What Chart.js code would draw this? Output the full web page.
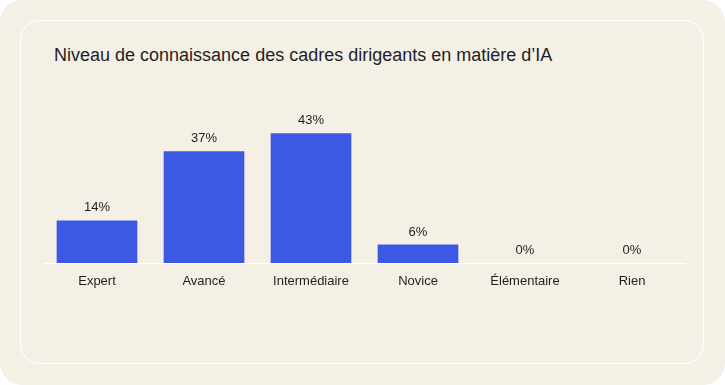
<!DOCTYPE html>
<html>
<head>
<meta charset="utf-8">
<script src="https://cdn.jsdelivr.net/npm/chart.js@4"></script>
<style>
  html, body { margin: 0; padding: 0; background: #ffffff; }
  #page {
    position: relative;
    width: 725px; height: 385px;
    background: #f4f0e6;
    border-radius: 22px;
    overflow: hidden;
    font-family: "Liberation Sans", Arial, sans-serif;
  }
  #card {
    position: absolute;
    left: 20px; top: 20px;
    width: 684px; height: 344px;
    border: 1px solid #ffffff;
    border-radius: 20px;
    box-sizing: border-box;
  }
  #title {
    position: absolute;
    left: 54px; top: 45px;
    font-size: 18px;
    line-height: 20px;
    color: #1f1f1f;
  }
  #wrap { position: absolute; left: 0; top: 0; width: 725px; height: 385px; }
</style>
</head>
<body>
<div id="page">
  <div id="card"></div>
  <div id="title">Niveau de connaissance des cadres dirigeants en matière d’IA</div>
  <div id="wrap"><canvas id="myChart"></canvas></div>
</div>
<script>
// Catégories et valeurs (%)
const categories = ['Expert', 'Avancé', 'Intermédiaire', 'Novice', 'Élémentaire', 'Rien'];
const values = [14, 37, 43, 6, 0, 0];

const fontFamily = '"Liberation Sans", Arial, sans-serif';

// Étiquettes de valeur au-dessus des barres
const valueLabels = {
    id: 'valueLabels',
    afterDatasetsDraw(chart) {
        const ctx = chart.ctx;
        const meta = chart.getDatasetMeta(0);
        ctx.save();
        ctx.font = '13px ' + fontFamily;
        ctx.fillStyle = '#1f1f1f';
        ctx.textAlign = 'center';
        ctx.textBaseline = 'middle';
        meta.data.forEach((bar, i) => {
            ctx.fillText(values[i] + '%', bar.x, bar.y - 13);
        });
        ctx.restore();
    }
};

const ctx = document.getElementById('myChart').getContext('2d');

new Chart(ctx, {
    type: 'bar',
    data: {
        labels: categories,
        datasets: [{
            data: values,
            // pas de trait pour les barres à 0 %
            backgroundColor: values.map(v => v > 0 ? '#3d59e3' : 'rgba(0,0,0,0)'),
            barThickness: 80,
            borderWidth: 0
        }]
    },
    options: {
        responsive: true,
        maintainAspectRatio: false,
        animation: false,
        layout: {
            padding: { left: 43.5, right: 39.5, top: 111.5, bottom: 82 }
        },
        plugins: {
            legend: { display: false },
            tooltip: { enabled: false }
        },
        scales: {
            x: {
                grid: { display: false },
                border: { display: true, color: '#ffffff', width: 1 },
                ticks: {
                    color: '#1f1f1f',
                    padding: 3,
                    font: { size: 13, family: fontFamily }
                },
                afterFit: (scale) => { scale.height = 40; }
            },
            y: {
                display: false,
                min: 0,
                max: 50.3
            }
        }
    },
    plugins: [valueLabels]
});
</script>
</body>
</html>
